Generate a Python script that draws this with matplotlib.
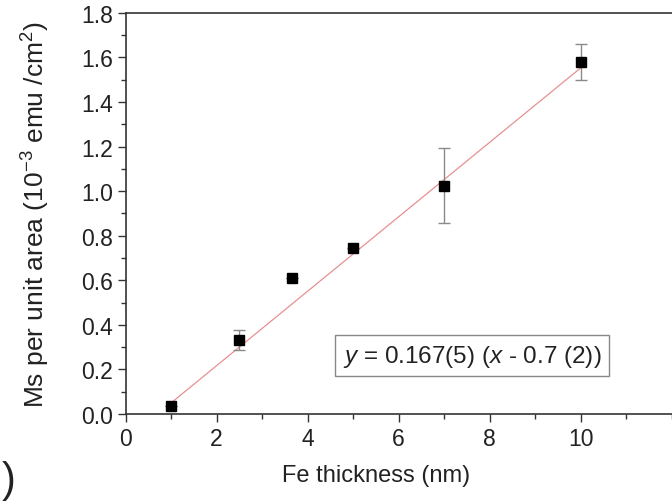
import numpy as np
import matplotlib.pyplot as plt
from matplotlib.ticker import MultipleLocator

plt.rcParams['font.family'] = ['Liberation Sans', 'DejaVu Sans']
plt.rcParams['mathtext.fontset'] = 'custom'
plt.rcParams['mathtext.rm'] = 'Liberation Sans'
plt.rcParams['mathtext.it'] = 'Liberation Sans:italic'

# Fe layer thickness (nm) and saturation moment per area (1e-3 emu/cm^2)
thickness = [1.0, 2.5, 3.65, 5.0, 7.0, 10.0]
ms_area = [0.035, 0.33, 0.61, 0.745, 1.025, 1.58]
ms_err = [0.0, 0.045, 0.0, 0.0, 0.17, 0.08]

# linear fit y = a (x - x0)
slope = 0.167
x0 = 0.7
fit_x = [1.0, 10.0]

fig = plt.figure(figsize=(6.72, 5.02), dpi=100)
ax = fig.add_axes([0.187, 0.1733, 0.826, 0.799])

fx = np.array(fit_x)
ax.plot(fx, slope * (fx - x0), color='#e89090', lw=0.9, zorder=2)
ax.errorbar(thickness, ms_area, yerr=ms_err, fmt='s', color='black',
            ms=7, ecolor='#8a8a8a', elinewidth=1.0, capsize=4, capthick=1.0,
            zorder=3)

ax.set_xlim(0, 12.2)
ax.set_ylim(0, 1.8)
ax.xaxis.set_minor_locator(MultipleLocator(1))
ax.yaxis.set_minor_locator(MultipleLocator(0.1))
ax.set_xticks([0, 2, 4, 6, 8, 10])
yt = np.arange(0, 1.81, 0.2)
ax.set_yticks(yt)
ax.set_yticklabels([f'{v:.1f}' for v in yt])
ax.tick_params(which='major', length=6, width=1, labelsize=16.5, pad=3,
               direction='out', color='#333333', labelcolor='#222222')
ax.tick_params(which='minor', length=3.5, width=1, direction='out',
               color='#333333')
for s in ax.spines.values():
    s.set_linewidth(1.2)
    s.set_color('#333333')

ax.set_xlabel('Fe thickness (nm)', fontsize=17, color='#222222')
ax.xaxis.set_label_coords(0.452, -0.125)
ax.set_ylabel(r'Ms per unit area (10$^{-3}$ emu /cm$^{2}$)', fontsize=19,
              color='#222222')
ax.yaxis.set_label_coords(-0.133, 0.5)

ax.text(4.77, 0.262, r'$\it{y}$ = 0.167(5) ($\it{x}$ - 0.7 (2))', fontsize=17.5,
        color='#222222', va='center', ha='left',
        bbox=dict(boxstyle='square,pad=0.3', fc='white', ec='#888888', lw=1))

fig.text(0.002, 0.02, ')', fontsize=30, color='#222222', ha='left')

fig.savefig('out.png', dpi=100)
